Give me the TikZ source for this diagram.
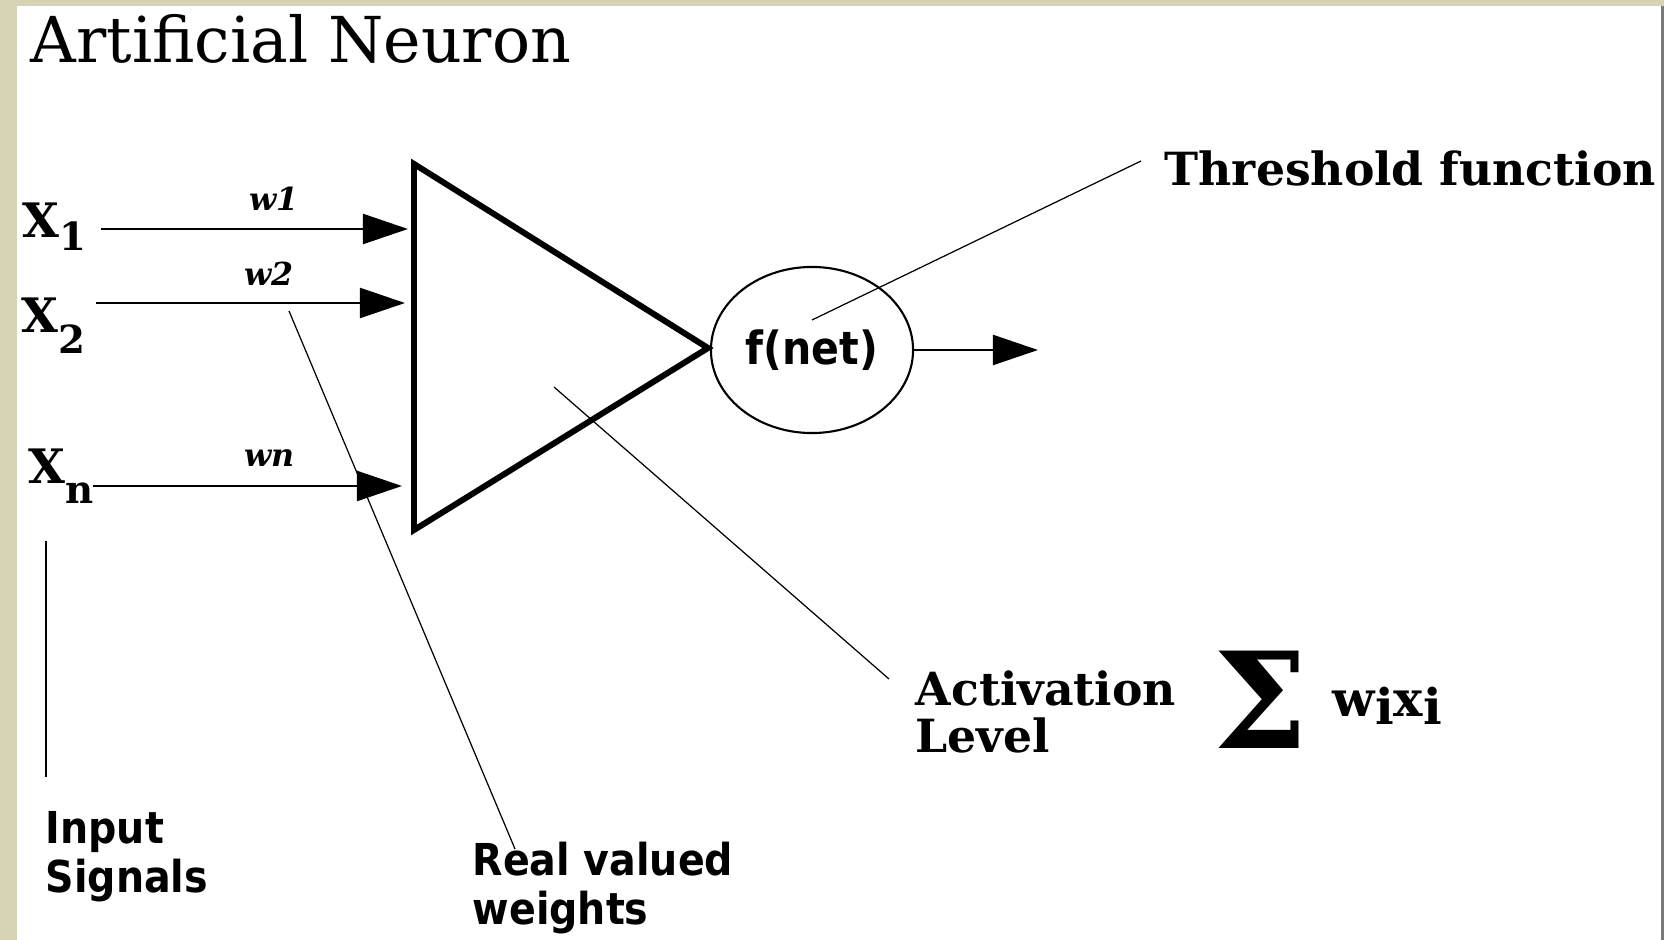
\documentclass[tikz,border=0pt]{standalone}
\usepackage{fontspec}
\setmainfont{DejaVu Serif}
\newfontfamily\condsans{DejaVu Sans Condensed Bold}
\usepackage{xcolor}
\usepackage{tikz}
\usetikzlibrary{
  arrows.meta,
  positioning,
  shapes.geometric,
}
\definecolor{framebeige}{RGB}{215,212,182}
\definecolor{framegray}{RGB}{122,122,120}

\begin{document}
\begin{tikzpicture}[
  x=0.01cm, y=-0.01cm,
  every node/.style={inner sep=0pt},
  heading/.style={font=\fontsize{18}{20}\selectfont, anchor=base west},
  inlabel/.style={font=\fontsize{13.5}{16}\selectfont\bfseries, anchor=base west},
  weight/.style={font=\fontsize{9}{11}\selectfont\bfseries\itshape, anchor=base west},
  note/.style={font=\fontsize{13}{13.3}\selectfont\bfseries, align=left, anchor=base west},
  signote/.style={font=\fontsize{12.5}{14}\condsans, align=left, anchor=north west},
  unit/.style={
    ellipse, draw, line width=0.6pt,
    minimum width=2.02cm, minimum height=1.66cm,
    font=\fontsize{13}{14}\condsans,
  },
  arrow/.style={-{Triangle[length=0.45cm, width=0.3cm]}, line width=0.6pt},
  leader/.style={line width=0.35pt},
  body/.style={line width=1.7pt, line join=miter},
]
  % Frame
  \fill[framebeige] (0,0) rectangle (1664,940);
  \fill[white] (17,6) rectangle (1661,940);
  \fill[framegray] (1661,6) rectangle (1664,940);
  \useasboundingbox (0,0) rectangle (1664,940);

  % Title
  \node[heading] (title) at (30,63) {Artificial Neuron};

  % Inputs
  \node[inlabel] (x1) at (22,238) {X\raisebox{-0.12cm}{\fontsize{11}{12}\selectfont 1}};
  \node[inlabel] (x2) at (21,333) {X\raisebox{-0.2cm}{\fontsize{11}{12}\selectfont 2}};
  \node[inlabel] (xn) at (28,483) {X\raisebox{-0.2cm}{\fontsize{11}{12}\selectfont n}};
  \coordinate (s1) at (101,229);
  \coordinate (s2) at (96,303);
  \coordinate (sn) at (93,486);

  % Summing body
  \coordinate (tl) at (414,164);
  \coordinate (bl) at (414,530);
  \coordinate (tip) at (708,348);
  \draw[body] (tl) -- (bl) -- (tip) -- cycle;

  % Weighted inputs
  \draw[arrow, shorten >=0.06cm] (s1) -- (s1 -| tl);
  \draw[arrow, shorten >=0.09cm] (s2) -- (s2 -| tl);
  \draw[arrow, shorten >=0.12cm] (sn) -- (sn -| tl);
  \node[weight] (w1) at (249,211) {w1};
  \node[weight] (w2) at (244,286) {w2};
  \node[weight] (wn) at (244,466) {wn};

  % Threshold unit
  \node[unit] (fnet) at (812,350) {f(net)};
  \coordinate (out) at (1038,350);
  \draw[arrow] (fnet) -- (out);

  \node[note] (thr) at (1164,186) {Threshold function};
  \coordinate (thrend) at (1141,161);
  \coordinate (thrpt) at (812,320);
  \draw[leader] (thrend) -- (thrpt);

  % Activation level
  \node[note, anchor=north west] (act) at (915,670) {Activation\\Level};
  \coordinate (actpt) at (554,387);
  \coordinate (actend) at (889,679);
  \draw[leader] (actpt) -- (actend);
  \node[anchor=base west, font=\fontsize{38}{40}\selectfont\bfseries] (sum) at (1213,748) {Σ};
  \node[note, font=\fontsize{14}{15}\selectfont\bfseries] (wx) at (1332,716) {w\raisebox{-0.08cm}{i}x\raisebox{-0.08cm}{i}};

  % Input signals
  \coordinate (sigtop) at (46,541);
  \coordinate (sigbot) at (46,777);
  \draw[line width=0.6pt] (sigtop) -- (sigbot);
  \node[signote] (sig) at (45,811) {Input\\Signals};

  % Real valued weights
  \coordinate (rvpt) at (289,311);
  \coordinate (rvend) at (515,849);
  \draw[leader] (rvpt) -- (rvend);
  \node[signote] (rvw) at (472,841) {Real valued\\weights};

\end{tikzpicture}
\end{document}
